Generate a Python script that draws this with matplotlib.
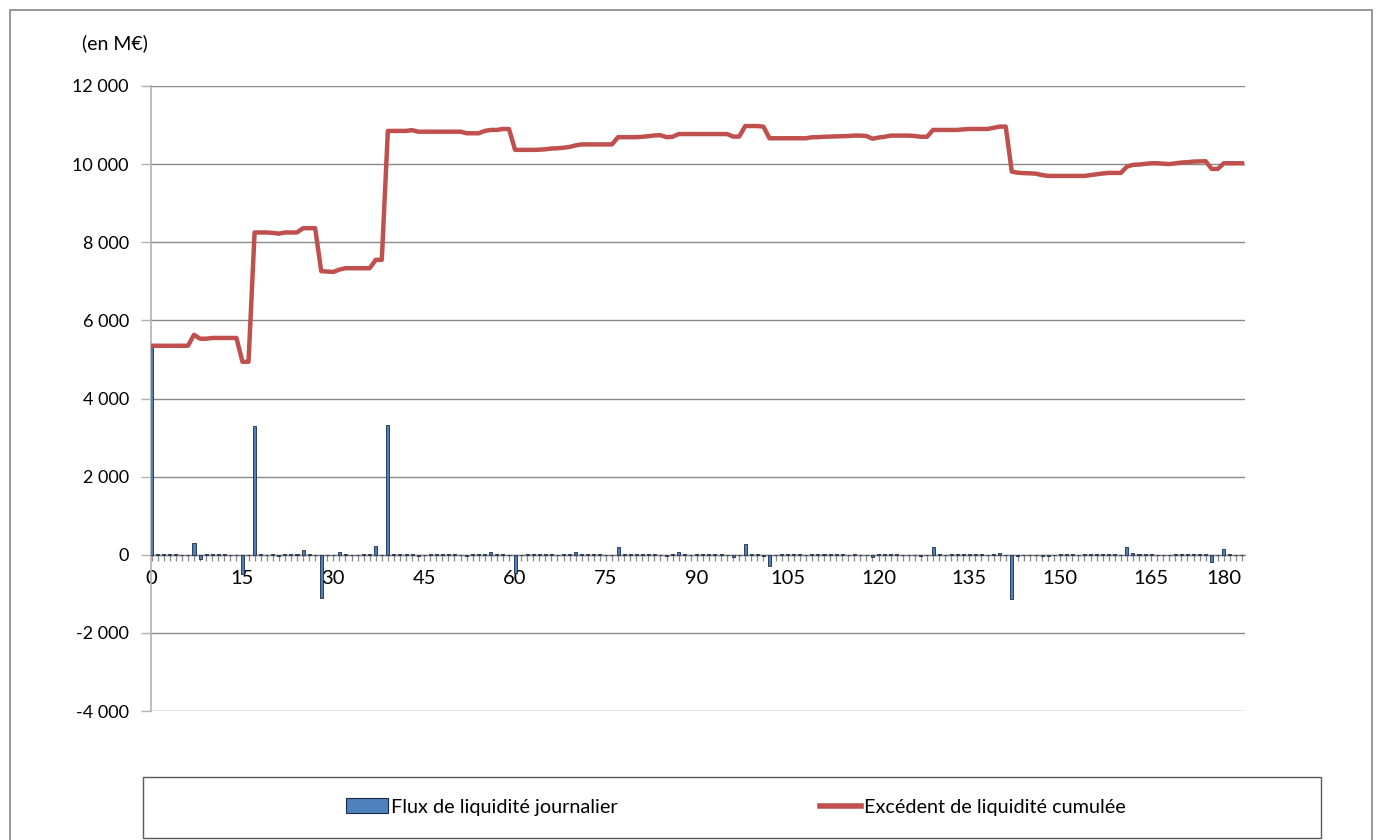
import numpy as np
import matplotlib
matplotlib.use("Agg")
import matplotlib.pyplot as plt
from matplotlib.ticker import FuncFormatter, MultipleLocator
from matplotlib.patches import Rectangle, Patch
from matplotlib.lines import Line2D

plt.rcParams['font.family'] = ['Lato', 'DejaVu Sans']

# Days 0..180
days = list(range(181))

# Daily liquidity flow (M€)
flux = [0] * 181
flux_points = {
    0: 5350, 1: 15, 2: 15, 3: 10, 4: 20, 7: 290, 8: -100, 9: 15, 10: 10, 11: 15, 12: 10,
    15: -480, 17: 3300, 18: 10, 20: 15, 21: -20, 22: 15, 23: 15, 24: 20, 25: 110, 26: 10,
    28: -1100, 29: -10, 30: -10, 31: 60, 32: 15, 35: 10, 36: 10, 37: 220, 39: 3320,
    40: 10, 41: 10, 42: 10, 43: 20, 44: -30, 46: 10, 47: 10, 48: 10, 49: 10, 50: 10,
    52: -20, 53: 10, 54: 10, 55: 30, 56: 70, 57: 10, 58: 15, 60: -470, 62: 10, 63: 10,
    64: 10, 65: 10, 66: 15, 68: 15, 69: 15, 70: 60, 71: 20, 72: 10, 73: 10, 74: 10,
    77: 200, 78: 10, 79: 10, 80: 10, 81: 10, 82: 15, 83: 20, 85: -40, 86: 10, 87: 60,
    88: 10, 90: 10, 91: 10, 92: 10, 93: 10, 94: 10, 96: -60, 98: 270, 99: 10, 100: 10,
    101: -20, 102: -290, 104: 10, 105: 10, 106: 10, 107: 10, 109: 25, 110: 10, 111: 10,
    112: 10, 113: 10, 114: 10, 116: 15, 118: -10, 119: -70, 120: 30, 121: 20, 122: 30,
    123: 10, 126: -10, 127: -20, 129: 190, 130: 10, 132: 10, 133: 10, 134: 15, 135: 10,
    136: 10, 137: 10, 139: 30, 140: 40, 142: -1140, 143: -20, 144: -10, 146: -10,
    147: -30, 148: -30, 150: 10, 151: 10, 152: 10, 154: 10, 155: 20, 156: 20, 157: 20,
    158: 10, 159: 10, 161: 210, 162: 40, 163: 10, 164: 15, 165: 15, 167: -10, 168: -10,
    169: 20, 170: 20, 171: 10, 172: 15, 173: 10, 174: 10, 175: -180, 177: 145, 178: 10,
}
for d, v in flux_points.items():
    flux[d] = v

# Cumulative liquidity surplus (M€)
cumul = (
    [5350] * 7 + [5630, 5530, 5530] + [5550] * 5 + [4940, 4940]
    + [8250, 8250, 8250, 8240, 8220, 8250, 8250, 8250] + [8360] * 3
    + [7260, 7250, 7240, 7300] + [7335] * 5 + [7550, 7550]
    + [10850] * 4 + [10870, 10830] + [10830] * 7 + [10790] * 3
    + [10850, 10875, 10875, 10900, 10900] + [10365] * 4
    + [10370, 10380, 10400, 10405, 10420, 10440, 10480] + [10505] * 6
    + [10690] * 4 + [10700, 10715, 10735, 10740, 10690, 10700] + [10770] * 9
    + [10705, 10705] + [10975] * 3 + [10960] + [10662] * 7
    + [10688, 10690, 10700, 10705, 10710, 10715, 10720, 10730, 10730, 10720,
       10650, 10680, 10700, 10730, 10730, 10730, 10730, 10720, 10700, 10700]
    + [10875] * 5 + [10890] + [10900] * 4
    + [10930, 10960, 10960, 9808, 9780, 9770, 9765, 9755, 9720] + [9698] * 7
    + [9720, 9740, 9760] + [9775] * 3
    + [9936, 9980, 9990, 10005, 10022, 10022, 10010, 10000, 10020, 10040,
       10050, 10065, 10070, 10075]
    + [9877, 9877] + [10022] * 4
)

y_ticks = [-4000, -2000, 0, 2000, 4000, 6000, 8000, 10000, 12000]
x_labels = list(range(0, 181, 15))

W, H = 1382, 840
fig = plt.figure(figsize=(W / 100, H / 100), dpi=100)

grey = '#898989'
bar_col = '#4F81BD'
line_col = '#C0504D'

# Outer chart frame
fig.patches.append(Rectangle((10 / W, -0.02), 1362 / W, 1 - 10 / H + 0.02,
                             transform=fig.transFigure, fill=False,
                             edgecolor='#868686', linewidth=1.2))

ax = fig.add_axes([151 / W, 1 - 711 / H, (1245 - 151) / W, (711 - 86) / H])
ax.set_facecolor('none')

ax.bar(days, flux, width=0.5, color=bar_col, edgecolor='#1b2a44',
       linewidth=0.6, zorder=3)
ax.plot(days, cumul, color=line_col, linewidth=3.2, solid_joinstyle='round',
        zorder=4)

ax.set_ylim(-4000, 12000)
ax.set_xlim(-0.1, 180.5)
ax.set_yticks(y_ticks)
ax.yaxis.set_major_formatter(FuncFormatter(lambda v, p: f"{v:,.0f}".replace(",", " ")))
ax.grid(axis='y', color=grey, linewidth=1.0, zorder=0)
ax.set_axisbelow(True)

for s in ['top', 'right']:
    ax.spines[s].set_visible(False)
ax.spines['left'].set_color('#b0b0b0')
ax.spines['left'].set_linewidth(1.2)
ax.spines['bottom'].set_position(('data', 0))
ax.spines['bottom'].set_color(grey)
ax.spines['bottom'].set_linewidth(1.0)

ax.set_xticks(x_labels)
ax.xaxis.set_minor_locator(MultipleLocator(1))
ax.tick_params(axis='x', which='both', direction='out', length=4, width=0.9,
               color=grey, labelsize=14.5, pad=7)
ax.tick_params(axis='y', direction='out', length=7, width=1.0, color='#b0b0b0',
               labelsize=13, pad=9)
# keep the last day label inside the plot width
ax.get_xticklabels()[-1].set_horizontalalignment('right')

fig.text(82 / W, 1 - 43 / H, "(en M€)", fontsize=14, va='center', ha='left')

# Legend box
fig.patches.append(Rectangle((143 / W, 1 - 838 / H), (1321 - 143) / W, (838 - 777) / H,
                             transform=fig.transFigure, fill=False,
                             edgecolor='#5a5a5a', linewidth=1.0))
handles = [Patch(facecolor=bar_col, edgecolor='#1b2a44', linewidth=0.8),
           Line2D([0], [0], color=line_col, linewidth=4)]
fig.legend(handles, ["Flux de liquidité journalier", "Excédent de liquidité cumulée"],
           loc='center', bbox_to_anchor=(736 / W, 1 - 807 / H), ncol=2, frameon=False,
           fontsize=14.3, handlelength=2.1, handleheight=0.75, handletextpad=0.15,
           columnspacing=10.2)

fig.savefig("out.png", dpi=100)
